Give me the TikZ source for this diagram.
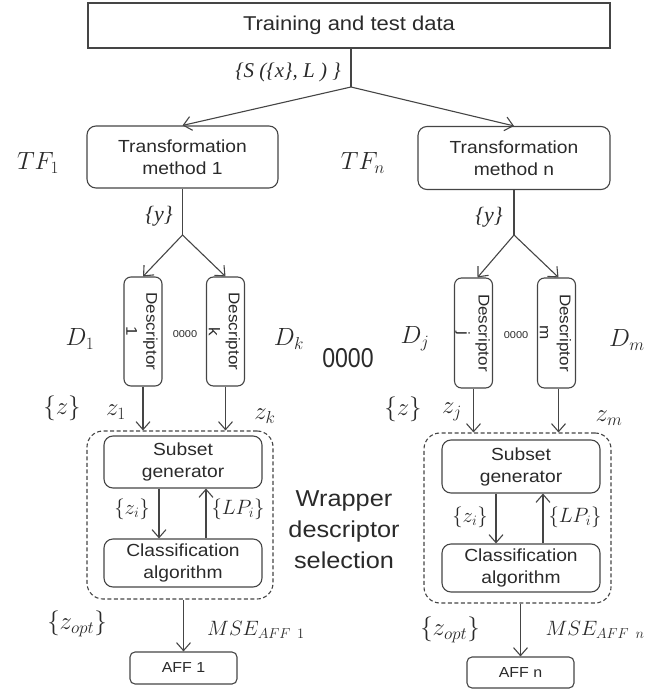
\documentclass[tikz,border=0pt]{standalone}
\usepackage[no-math]{fontspec}
\setmainfont{Liberation Sans}[FakeStretch=1.1]
\newfontfamily\tms{Liberation Serif}
\usetikzlibrary{arrows.meta}
\definecolor{linec}{HTML}{454545}
\definecolor{txt}{HTML}{2A2A2A}
\newcommand{\fs}[2]{\fontsize{#1}{#2}\selectfont}
\begin{document}
\begin{tikzpicture}[x=1pt,y=-1pt,
  every node/.style={text=txt, inner sep=0pt},
  sqbox/.style={draw=linec, line width=1.1pt, minimum width=#1},
  rbox/.style={draw=linec, line width=1.1pt, rounded corners=9pt},
  dbox/.style={draw=linec, line width=1.1pt, rounded corners=7pt, minimum width=38pt, minimum height=109pt},
  wbox/.style={draw=linec, line width=1.1pt, dashed, dash pattern=on 4pt off 2.5pt, rounded corners=16pt},
  arr/.style={draw=linec, line width=1.1pt, -{Straight Barb[length=8pt,width=14pt,line width=1.1pt]}},
  ln/.style={draw=linec, line width=1.1pt},
  mlab/.style={font=\fs{26}{30}},
  slab/.style={font=\fs{22}{26}},
  zlab/.style={font=\fs{25}{29}},
  tlab/.style={font=\tms\itshape\fs{21}{24}},
  btxt/.style={font=\fs{17.5}{22}, align=center},
  dtxt/.style={font=\fs{15.5}{20}, align=center, rotate=-90}
]
\useasboundingbox (0,0) rectangle (670,692);

% top
\node[sqbox=522pt, minimum height=45pt, font=\fs{20}{24}] (top) at (349,25.5) {Training and test data};
\coordinate (j0) at (351,87);
\node[tlab] (slbl) at (288,72) {\{S (\{x\}, L ) \}};

% transformation boxes
\node[rbox, minimum width=191pt, minimum height=62pt, btxt] (tf1) at (182.5,157) {Transformation\\method 1};
\node[rbox, minimum width=192pt, minimum height=63pt, btxt] (tfn) at (514,158) {Transformation\\method n};
\node[mlab] (tf1l) at (38,163) {$TF_1$};
\node[mlab] (tfnl) at (363,163) {$TF_n$};

\draw[ln] (j0 |- top.south) -- (j0);
\draw[arr] (j0) -- (tf1.north);
\draw[arr] (j0) -- (tfn.north);

% junctions
\coordinate (j1) at (182.5,235);
\coordinate (j2) at (514,235);
\draw[ln] (tf1.south) -- (j1);
\draw[ln] (tfn.south) -- (j2);
\node[tlab, font=\tms\itshape\fs{22}{26}] (y1) at (159,216) {\{y\}};
\node[tlab, font=\tms\itshape\fs{22}{26}] (y2) at (489,217) {\{y\}};

% descriptors
\node[dbox] (d1) at (143,331.5) {};
\node[dbox] (dk) at (225.5,331.5) {};
\node[dbox, minimum height=110pt] (dj) at (473.5,333) {};
\node[dbox, minimum height=110pt] (dm) at (556.5,333) {};
\node[dtxt] (d1t) at ([xshift=-1pt]d1.center) {Descriptor\\1};
\node[dtxt] (dkt) at ([xshift=-1pt]dk.center) {Descriptor\\k};
\node[dtxt] (djt) at ([xshift=-1pt]dj.center) {Descriptor\\j};
\node[dtxt] (dmt) at ([xshift=-1pt]dm.center) {Descriptor\\m};
\draw[arr] (j1) -- (d1.north);
\draw[arr] (j1) -- (dk.north);
\draw[arr] (j2) -- ([xshift=4pt]dj.north);
\draw[arr] (j2) -- ([xshift=2pt]dm.north);

\node[font=\fs{10}{12}] (o1) at (185,334) {0000};
\node[font=\fs{10}{12}] (o2) at (516,335) {0000};
\node[font=\fs{21}{25}] (o3) at (348,358) {\scalebox{1}[1.3]{0000}};

\node[mlab] (d1l) at (80,339) {$D_1$};
\node[mlab] (dkl) at (289,339) {$D_k$};
\node[mlab] (djl) at (415,339) {$D_j$};
\node[mlab] (dml) at (627,340) {$D_m$};

% wrapper boxes
\node[wbox, minimum width=186pt, minimum height=168pt] (w1) at (180,515) {};
\node[wbox, minimum width=187pt, minimum height=170pt] (wn) at (517.5,518) {};
\node[rbox, minimum width=158pt, minimum height=52pt, btxt] (sg1) at (183,462) {Subset\\generator};
\node[rbox, minimum width=158pt, minimum height=48pt, btxt] (cl1) at (183,563) {Classification\\algorithm};
\node[rbox, minimum width=158pt, minimum height=53pt, btxt] (sgn) at (521,466.5) {Subset\\generator};
\node[rbox, minimum width=158pt, minimum height=48pt, btxt] (cln) at (521,568) {Classification\\algorithm};

\draw[arr] (d1.south) -- (d1.south |- w1.north);
\draw[arr] (dk.south) -- (dk.south |- w1.north);
\draw[arr] (dj.south) -- (dj.south |- wn.north);
\draw[arr] ([xshift=2pt]dm.south) -- ([xshift=2pt]dm.south |- wn.north);

\node[zlab] (z0l) at (62,408) {$\{z\}$};
\node[zlab] (z1l) at (116,412) {$z_1$};
\node[zlab] (zkl) at (265,416) {$z_k$};
\node[zlab] (z0r) at (403,409) {$\{z\}$};
\node[zlab] (zjl) at (452,412) {$z_j$};
\node[zlab] (zml) at (609,418) {$z_m$};

\draw[arr] ([xshift=-24pt]sg1.south) -- ([xshift=-24pt]cl1.north);
\draw[arr] ([xshift=23pt]cl1.north) -- ([xshift=23pt]sg1.south);
\draw[arr] ([xshift=-25pt]sgn.south) -- ([xshift=-25pt]cln.north);
\draw[arr] ([xshift=22pt]cln.north) -- ([xshift=22pt]sgn.south);
\node[slab] (zi1) at (132,509) {$\{z_i\}$};
\node[slab] (lp1) at (238,509) {$\{LP_i\}$};
\node[slab] (zin) at (470,517) {$\{z_i\}$};
\node[slab] (lpn) at (575,517) {$\{LP_i\}$};

\node[font=\fs{23}{31}, align=center] (wrap) at (344,530) {Wrapper\\descriptor\\selection};

% outputs
\node[rbox, rounded corners=5pt, minimum width=107pt, minimum height=32pt, font=\fs{14.5}{17}] (aff1) at (183.5,668) {AFF 1};
\node[rbox, rounded corners=5pt, minimum width=107pt, minimum height=31pt, font=\fs{14.5}{17}] (affn) at (520.5,672.5) {AFF n};
\draw[arr] (aff1.north |- w1.south) -- (aff1.north);
\draw[arr] (affn.north |- wn.south) -- (affn.north);
\node[font=\fs{26}{30}] (zo1) at (77,624) {$\{z_{opt}\}$};
\node[slab] (mse1) at (256,630) {$MSE_{AFF\ \mathrm{1}}$};
\node[font=\fs{26}{30}] (zon) at (450,630) {$\{z_{opt}\}$};
\node[slab] (msen) at (595,630) {$MSE_{AFF\ n}$};
\end{tikzpicture}
\end{document}
